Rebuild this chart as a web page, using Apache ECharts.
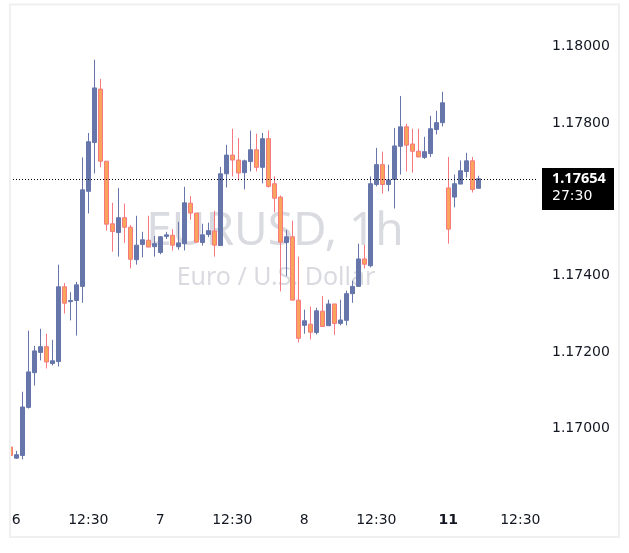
<!DOCTYPE html>
<html>
<head>
<meta charset="utf-8">
<script src="https://cdn.jsdelivr.net/npm/echarts@6/dist/echarts.min.js"></script>
<style>
  html, body { margin: 0; padding: 0; background: #fff; }
  #chart { width: 629px; height: 553px; }
</style>
</head>
<body>
<div id="chart"></div>
<script>
// EURUSD 1h candles
const opens = [
  1.16951, 1.16922, 1.16929, 1.17055, 1.17146, 1.17199, 1.17214, 1.17170, 1.17175, 1.17371,
  1.17332, 1.17335, 1.17372, 1.17621, 1.17749, 1.17889, 1.17700, 1.17536, 1.17513, 1.17552,
  1.17527, 1.17442, 1.17482, 1.17493, 1.17476, 1.17461, 1.17503, 1.17506, 1.17476, 1.17484,
  1.17590, 1.17564, 1.17487, 1.17508, 1.17517, 1.17479, 1.17667, 1.17716, 1.17703, 1.17670,
  1.17699, 1.17730, 1.17684, 1.17759, 1.17641, 1.17606, 1.17487, 1.17502, 1.17336, 1.17270,
  1.17273, 1.17251, 1.17307, 1.17269, 1.17326, 1.17275, 1.17283, 1.17353, 1.17372, 1.17444,
  1.17426, 1.17639, 1.17691, 1.17639, 1.17652, 1.17739, 1.17790, 1.17745, 1.17726, 1.17710,
  1.17720, 1.17783, 1.17801, 1.17630, 1.17606, 1.17640, 1.17673, 1.17701, 1.17629
];
const closes = [
  1.16929, 1.16931, 1.17056, 1.17148, 1.17203, 1.17214, 1.17174, 1.17177, 1.17371, 1.17328,
  1.17335, 1.17376, 1.17625, 1.17751, 1.17892, 1.17700, 1.17535, 1.17516, 1.17552, 1.17527,
  1.17443, 1.17480, 1.17494, 1.17475, 1.17484, 1.17502, 1.17507, 1.17480, 1.17486, 1.17591,
  1.17564, 1.17488, 1.17507, 1.17518, 1.17480, 1.17667, 1.17716, 1.17703, 1.17669, 1.17701,
  1.17730, 1.17684, 1.17759, 1.17634, 1.17603, 1.17488, 1.17502, 1.17336, 1.17236, 1.17282,
  1.17252, 1.17308, 1.17267, 1.17326, 1.17275, 1.17284, 1.17353, 1.17372, 1.17444, 1.17430,
  1.17641, 1.17691, 1.17639, 1.17651, 1.17740, 1.17790, 1.17742, 1.17726, 1.17711, 1.17725,
  1.17785, 1.17801, 1.17853, 1.17522, 1.17641, 1.17675, 1.17701, 1.17626, 1.17654
];
const lows = [
  1.16925, 1.16920, 1.16919, 1.17052, 1.17112, 1.17178, 1.17157, 1.17165, 1.17162, 1.17301,
  1.17283, 1.17243, 1.17329, 1.17563, 1.17668, 1.17684, 1.17518, 1.17463, 1.17450, 1.17486,
  1.17419, 1.17429, 1.17448, 1.17475, 1.17450, 1.17456, 1.17496, 1.17466, 1.17468, 1.17466,
  1.17547, 1.17486, 1.17479, 1.17501, 1.17450, 1.17479, 1.17631, 1.17660, 1.17650, 1.17626,
  1.17673, 1.17673, 1.17642, 1.17631, 1.17566, 1.17359, 1.17399, 1.17336, 1.17225, 1.17248,
  1.17233, 1.17246, 1.17267, 1.17269, 1.17245, 1.17270, 1.17270, 1.17329, 1.17372, 1.17419,
  1.17422, 1.17634, 1.17615, 1.17621, 1.17576, 1.17665, 1.17673, 1.17670, 1.17711, 1.17706,
  1.17711, 1.17770, 1.17791, 1.17484, 1.17579, 1.17640, 1.17657, 1.17618, 1.17629
];
const highs = [
  1.16970, 1.16941, 1.17096, 1.17256, 1.17216, 1.17261, 1.17248, 1.17232, 1.17429, 1.17381,
  1.17357, 1.17384, 1.17710, 1.17774, 1.17966, 1.17916, 1.17700, 1.17591, 1.17630, 1.17589,
  1.17533, 1.17557, 1.17515, 1.17557, 1.17504, 1.17504, 1.17515, 1.17522, 1.17541, 1.17633,
  1.17609, 1.17564, 1.17536, 1.17539, 1.17570, 1.17685, 1.17743, 1.17785, 1.17761, 1.17704,
  1.17780, 1.17772, 1.17774, 1.17781, 1.17660, 1.17610, 1.17520, 1.17544, 1.17450, 1.17311,
  1.17319, 1.17316, 1.17347, 1.17337, 1.17326, 1.17337, 1.17361, 1.17387, 1.17484, 1.17481,
  1.17660, 1.17735, 1.17725, 1.17691, 1.17787, 1.17871, 1.17798, 1.17785, 1.17785, 1.17764,
  1.17819, 1.17832, 1.17882, 1.17711, 1.17665, 1.17702, 1.17722, 1.17711, 1.17662
];

// time axis: one slot per hour, some empty room on the right
const slotCount = 88;
const tickIndex = [1, 13, 25, 37, 49, 61, 73, 85];
const tickLabels = ['6', '12:30', '7', '12:30', '8', '12:30', '11', '12:30'];
const boldTicks = ['11'];

const priceTicks = { min: 1.168, max: 1.1812, step: 0.002 };
const countdown = '27:30';
const symbolName = 'EURUSD, 1h';
const symbolDesc = 'Euro / U.S. Dollar';

const bull = '#6676ab';
const bearFill = '#f9a45a';
const bearLine = '#f7787f';
const textColor = '#131722';
const fontFamily = '"DejaVu Sans", sans-serif';

const categories = [];
for (let i = 0; i < slotCount; i++) {
  const j = tickIndex.indexOf(i);
  categories.push(j >= 0 ? tickLabels[j] : '');
}
const candles = opens.map((o, i) => [o, closes[i], lows[i], highs[i]]);
const lastPrice = closes[closes.length - 1];

const chart = echarts.init(document.getElementById('chart'));

chart.setOption({
  animation: false,
  backgroundColor: '#fff',
  grid: { left: 7.3, right: 93.7, top: 0.9, bottom: 553 - 504.7 },
  xAxis: {
    type: 'category',
    data: categories,
    boundaryGap: true,
    axisLine: { show: false },
    axisTick: { show: false },
    splitLine: { show: false },
    axisLabel: {
      interval: (i) => tickIndex.includes(i),
      margin: 9,
      color: textColor,
      fontFamily: fontFamily,
      fontSize: 14,
      formatter: (v) => boldTicks.includes(v) ? '{b|' + v + '}' : v,
      rich: { b: { fontWeight: 'bold', fontFamily: fontFamily, fontSize: 14, color: textColor } }
    }
  },
  yAxis: {
    type: 'value',
    position: 'right',
    min: priceTicks.min,
    max: priceTicks.max,
    interval: priceTicks.step,
    axisLine: { show: false },
    axisTick: { show: false },
    splitLine: { show: false },
    axisLabel: {
      showMinLabel: false,
      showMaxLabel: false,
      align: 'left',
      margin: 16.7,
      color: textColor,
      fontFamily: fontFamily,
      fontSize: 14,
      formatter: (v) => v.toFixed(5)
    }
  },
  series: [{
    type: 'candlestick',
    data: candles,
    barWidth: 4,
    clip: true,
    itemStyle: {
      color: bull,
      color0: bearFill,
      borderColor: bull,
      borderColor0: bearLine,
      borderWidth: 1
    }
  }]
});

// last price line and tag, placed through the price scale
const yPix = chart.convertToPixel({ yAxisIndex: 0 }, lastPrice);
const lineY = Math.round(yPix) + 0.5;

chart.setOption({
  graphic: [
    {
      type: 'text', z: -1, x: 275, y: 232,
      style: { text: symbolName, fill: '#dadbe1', font: '46px "Noto Sans"', align: 'center', verticalAlign: 'middle' }
    },
    {
      type: 'text', z: -1, x: 276, y: 278,
      style: { text: symbolDesc, fill: '#dadbe1', font: '25px "Noto Sans"', align: 'center', verticalAlign: 'middle' }
    },
    {
      type: 'line', z: 50, shape: { x1: 10, y1: lineY, x2: 537, y2: lineY },
      style: { stroke: '#000', lineWidth: 1, lineDash: [1, 2] }
    },
    {
      type: 'rect', z: 99, shape: { x: 0, y: 0, width: 9, height: 553 },
      style: { fill: '#fff' }
    },
    {
      type: 'rect', z: 100, shape: { x: 10, y: 4.5, width: 609, height: 532.5 },
      style: { fill: 'none', stroke: '#f0f0f0', lineWidth: 2 }
    },
    {
      type: 'rect', z: 100, shape: { x: 542, y: Math.round(yPix) - 11, width: 72, height: 42 },
      style: { fill: '#000' }
    },
    {
      type: 'text', z: 101, x: 552, y: yPix,
      style: { text: lastPrice.toFixed(5), fill: '#fff', font: 'bold 14.5px "Noto Sans"', verticalAlign: 'middle' }
    },
    {
      type: 'text', z: 101, x: 552, y: yPix + 18,
      style: { text: countdown, fill: '#fff', font: '14px "DejaVu Sans"', verticalAlign: 'middle' }
    }
  ]
});
</script>
</body>
</html>
